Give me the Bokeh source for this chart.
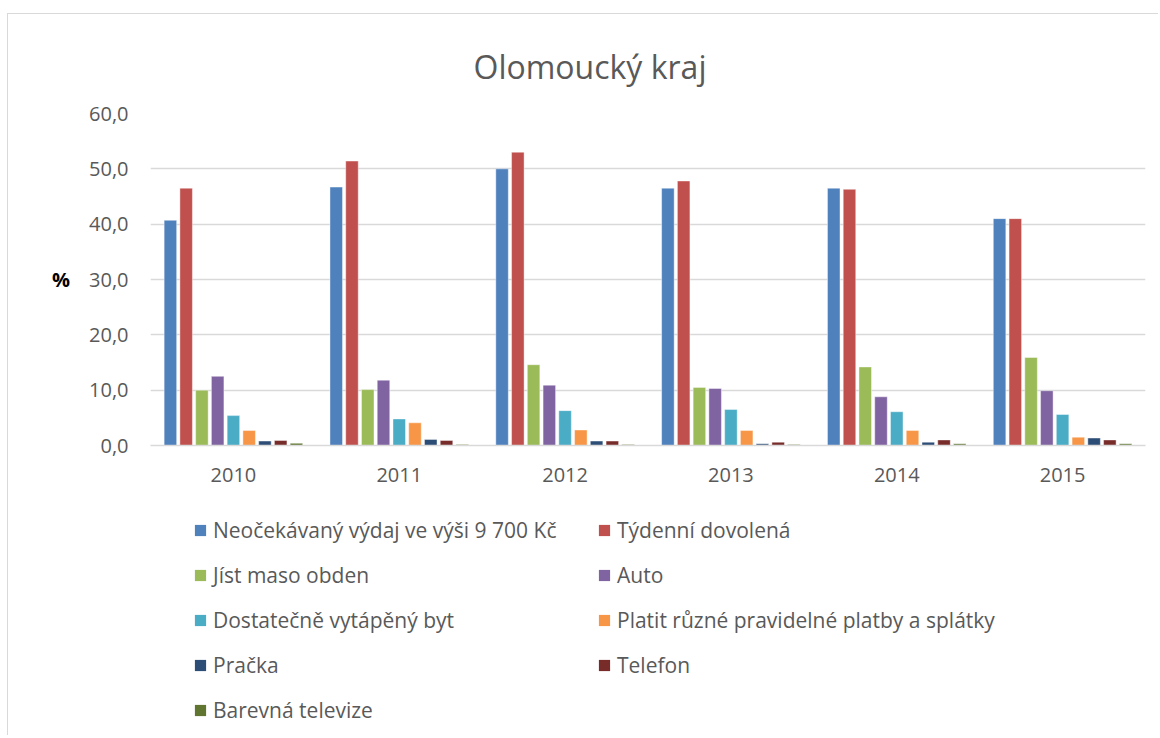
from bokeh.plotting import figure
from bokeh.models import ColumnDataSource, Legend, LegendItem, CustomJSTickFormatter, FixedTicker, Range1d
from bokeh.layouts import column
from bokeh.transform import dodge
from bokeh.embed import file_html
from bokeh.resources import INLINE

years = ["2010", "2011", "2012", "2013", "2014", "2015"]
series_names = [
    "Neočekávaný výdaj ve výši 9 700 Kč",
    "Týdenní dovolená",
    "Jíst maso obden",
    "Auto",
    "Dostatečně vytápěný byt",
    "Platit různé pravidelné platby a splátky",
    "Pračka",
    "Telefon",
    "Barevná televize",
]
neocekavany = [40.7, 46.7, 50.0, 46.5, 46.5, 41.0]
dovolena = [46.5, 51.4, 53.0, 47.8, 46.3, 41.0]
maso = [10.0, 10.1, 14.6, 10.5, 14.2, 15.9]
auto = [12.5, 11.8, 10.9, 10.3, 8.8, 9.9]
byt = [5.4, 4.8, 6.3, 6.5, 6.1, 5.6]
platby = [2.7, 4.1, 2.8, 2.7, 2.7, 1.5]
pracka = [0.8, 1.1, 0.8, 0.3, 0.6, 1.35]
telefon = [0.9, 0.9, 0.8, 0.6, 1.0, 1.0]
televize = [0.4, 0.2, 0.2, 0.2, 0.3, 0.3]
series_values = [neocekavany, dovolena, maso, auto, byt, platby, pracka, telefon, televize]
colors = ["#4F81BD", "#C0504D", "#9BBB59", "#8064A2", "#4BACC6",
          "#F79646", "#2C4D75", "#772C2A", "#5F7530"]
y_ticks = [0, 10, 20, 30, 40, 50, 60]

FONT = "Open Sans"
GREY = "#595959"
W = 1150

p = figure(x_range=years, y_range=(0, 60), width=W, height=481,
           output_backend="svg", toolbar_location=None,
           min_border_left=142, min_border_right=13, min_border_top=99, min_border_bottom=50)
p.title.text = "Olomoucký kraj"
p.title.align = "left"
p.title.offset = 323
p.title.vertical_align = "top"
p.title.standoff = 48
p.title.text_font = FONT
p.title.text_font_size = "32px"
p.title.text_font_style = "normal"
p.title.text_color = GREY

src = ColumnDataSource(dict(year=years, **{f"s{i}": v for i, v in enumerate(series_values)}))
pitch = 0.095
for i, (name, col) in enumerate(zip(series_names, colors)):
    p.vbar(x=dodge("year", (i - 4) * pitch, range=p.x_range), top=f"s{i}", width=0.0755,
           source=src, fill_color=col, line_color="white", line_width=0.7, line_alpha=0.6)

p.outline_line_color = None
p.xgrid.grid_line_color = None
p.ygrid.grid_line_color = "#D9D9D9"
p.ygrid.grid_line_width = 1.3
p.yaxis.ticker = FixedTicker(ticks=y_ticks)
p.yaxis.formatter = CustomJSTickFormatter(code="return tick.toFixed(1).replace('.', ',');")
for ax in (p.xaxis[0], p.yaxis[0]):
    ax.major_tick_line_color = None
    ax.minor_tick_line_color = None
    ax.major_label_text_font = FONT
    ax.major_label_text_font_size = "20px"
    ax.major_label_text_color = GREY
p.yaxis.axis_line_color = None
p.xaxis.axis_line_color = "#D9D9D9"
p.xaxis.axis_line_width = 1.3
p.xaxis.major_label_standoff = 16
p.yaxis.major_label_standoff = 16
p.yaxis.axis_label = "%"
p.yaxis.axis_label_orientation = "horizontal"
p.yaxis.axis_label_text_font = FONT
p.yaxis.axis_label_text_font_style = "bold"
p.yaxis.axis_label_text_font_size = "20px"
p.yaxis.axis_label_text_color = "black"
p.yaxis.axis_label_standoff = 16

# legend figure (frame aligned with the chart above)
p2 = figure(width=W, height=240, output_backend="svg", toolbar_location=None,
            x_range=Range1d(0, 1), y_range=Range1d(0, 1),
            min_border_left=0, min_border_right=0, min_border_top=0, min_border_bottom=0)
p2.axis.visible = False
p2.grid.visible = False
p2.outline_line_color = None
nan = float("nan")
dummies = [p2.rect(x=[nan], y=[nan], width=0.1, height=0.1, fill_color=c, line_color=None)
           for c in colors]

def make_legend(idx, loc):
    items = [LegendItem(label=series_names[i], renderers=[dummies[i]]) for i in idx]
    return Legend(items=items, orientation="vertical", location=loc,
                  glyph_width=14, glyph_height=14, label_standoff=6,
                  label_height=29, spacing=16, padding=0, margin=0,
                  label_text_font=FONT, label_text_font_size="21px", label_text_color=GREY,
                  border_line_color=None, background_fill_alpha=0)

p2.add_layout(make_legend([0, 2, 4, 6, 8], (43, 11)), "center")
p2.add_layout(make_legend([1, 3, 5, 7], (447, 56)), "center")

layout = column(p, p2, spacing=0, margin=(13, 0, 0, 7),
                styles={"border-left": "1px solid #D9D9D9", "border-top": "1px solid #D9D9D9"})
open("out.html", "w").write(file_html(layout, INLINE))
